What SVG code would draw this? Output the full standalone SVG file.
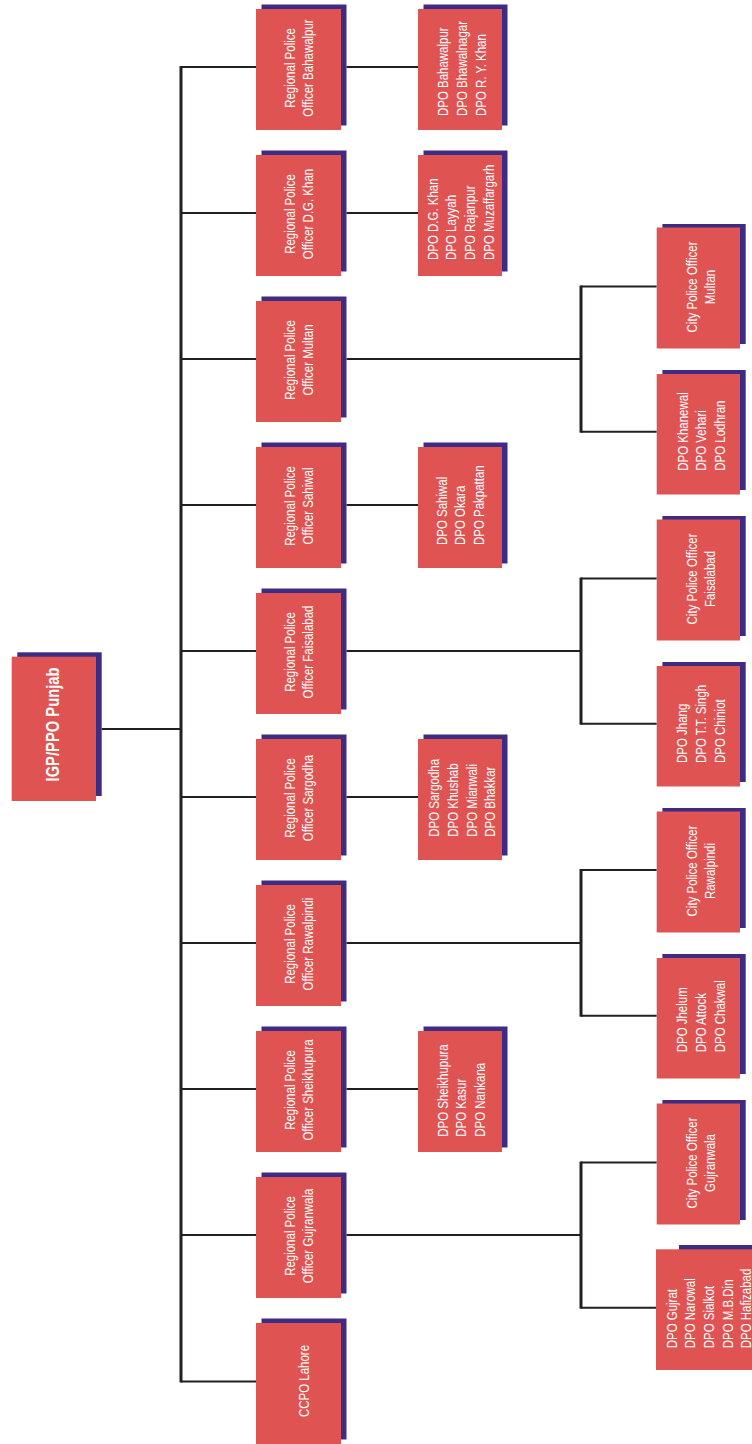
<svg xmlns="http://www.w3.org/2000/svg" width="752" height="1444" viewBox="0 0 752 1444">
<style>
.bg{fill:#ffffff}
.box{fill:#e05353}
.sh{fill:#3e2b84}
.t{font-family:"Liberation Sans",Arial,sans-serif;font-size:15px;fill:#ffffff}
.tb{font-family:"Liberation Sans",Arial,sans-serif;font-size:19px;font-weight:bold;fill:#ffffff}
.c{stroke:#231f20;stroke-width:2;fill:none}
.cv{stroke:#231f20;stroke-width:3;fill:none}
</style>
<rect class="bg" x="0" y="0" width="752" height="1444"/>
<g id="connectors">
  <line class="c" x1="101.7" y1="729" x2="181" y2="729"/>
  <line class="cv" x1="181" y1="66" x2="181" y2="1382.5"/>
  <path class="c" d="M181,67H256 M181,213H256 M181,359H256 M181,505H256 M181,651H256 M181,797H256 M181,943H256 M181,1089H256 M181,1235H256 M181,1381.5H256"/>
  <path class="c" d="M346.5,67H418 M346.5,213H418 M346.5,505H418 M346.5,797H418 M346.5,1089H418"/>
  <path class="c" d="M346.5,359H581 M346.5,651H581 M346.5,943H581 M346.5,1235H581"/>
  <path class="c" d="M581,286.5H656.7 M581,431.7H656.7 M581,578.5H656.7 M581,723.7H656.7 M581,870H656.7 M581,1015.7H656.7 M581,1162.5H656.7 M581,1307.7H656.7"/>
  <line class="cv" x1="581" y1="285.5" x2="581" y2="432.7"/>
  <line class="cv" x1="581" y1="577.5" x2="581" y2="724.7"/>
  <line class="cv" x1="581" y1="869" x2="581" y2="1016.7"/>
  <line class="cv" x1="581" y1="1161.5" x2="581" y2="1308.7"/>
</g>
<g id="igp">
  <rect class="sh" x="17.3" y="652.3" width="84.4" height="143.7"/>
  <rect class="box" x="11.7" y="656.7" width="84.3" height="144.3"/>
  <text class="tb" text-anchor="middle" transform="translate(59,724.5) rotate(-90) scale(0.777,1)">IGP/PPO Punjab</text>
</g>
<g id="rpo-bahawalpur">
  <rect class="sh" x="261.5" y="4.5" width="85" height="121"/>
  <rect class="box" x="256" y="9" width="85" height="121"/>
  <text class="t" text-anchor="middle" transform="translate(294.5,68) rotate(-90) scale(0.765,1)"><tspan x="0">Regional Police</tspan><tspan x="0" dy="19">Officer Bahawalpur</tspan></text>
</g>
<g id="rpo-dgkhan">
  <rect class="sh" x="261.5" y="150.5" width="85" height="121"/>
  <rect class="box" x="256" y="155" width="85" height="121"/>
  <text class="t" text-anchor="middle" transform="translate(294.5,214) rotate(-90) scale(0.765,1)"><tspan x="0">Regional Police</tspan><tspan x="0" dy="19">Officer D.G. Khan</tspan></text>
</g>
<g id="rpo-multan">
  <rect class="sh" x="261.5" y="296.5" width="85" height="121"/>
  <rect class="box" x="256" y="301" width="85" height="121"/>
  <text class="t" text-anchor="middle" transform="translate(294.5,360) rotate(-90) scale(0.765,1)"><tspan x="0">Regional Police</tspan><tspan x="0" dy="19">Officer Multan</tspan></text>
</g>
<g id="rpo-sahiwal">
  <rect class="sh" x="261.5" y="442.5" width="85" height="121"/>
  <rect class="box" x="256" y="447" width="85" height="121"/>
  <text class="t" text-anchor="middle" transform="translate(294.5,506) rotate(-90) scale(0.765,1)"><tspan x="0">Regional Police</tspan><tspan x="0" dy="19">Officer Sahiwal</tspan></text>
</g>
<g id="rpo-faisalabad">
  <rect class="sh" x="261.5" y="588.5" width="85" height="121"/>
  <rect class="box" x="256" y="593" width="85" height="121"/>
  <text class="t" text-anchor="middle" transform="translate(294.5,652) rotate(-90) scale(0.765,1)"><tspan x="0">Regional Police</tspan><tspan x="0" dy="19">Officer Faisalabad</tspan></text>
</g>
<g id="rpo-sargodha">
  <rect class="sh" x="261.5" y="734.5" width="85" height="121"/>
  <rect class="box" x="256" y="739" width="85" height="121"/>
  <text class="t" text-anchor="middle" transform="translate(294.5,798) rotate(-90) scale(0.765,1)"><tspan x="0">Regional Police</tspan><tspan x="0" dy="19">Officer Sargodha</tspan></text>
</g>
<g id="rpo-rawalpindi">
  <rect class="sh" x="261.5" y="880.5" width="85" height="121"/>
  <rect class="box" x="256" y="885" width="85" height="121"/>
  <text class="t" text-anchor="middle" transform="translate(294.5,944) rotate(-90) scale(0.765,1)"><tspan x="0">Regional Police</tspan><tspan x="0" dy="19">Officer Rawalpindi</tspan></text>
</g>
<g id="rpo-sheikhupura">
  <rect class="sh" x="261.5" y="1026.5" width="85" height="121"/>
  <rect class="box" x="256" y="1031" width="85" height="121"/>
  <text class="t" text-anchor="middle" transform="translate(294.5,1090) rotate(-90) scale(0.765,1)"><tspan x="0">Regional Police</tspan><tspan x="0" dy="19">Officer Sheikhupura</tspan></text>
</g>
<g id="rpo-gujranwala">
  <rect class="sh" x="261.5" y="1172.5" width="85" height="121"/>
  <rect class="box" x="256" y="1177" width="85" height="121"/>
  <text class="t" text-anchor="middle" transform="translate(294.5,1236) rotate(-90) scale(0.765,1)"><tspan x="0">Regional Police</tspan><tspan x="0" dy="19">Officer Gujranwala</tspan></text>
</g>
<g id="ccpo-lahore">
  <rect class="sh" x="261.5" y="1318.5" width="85" height="121"/>
  <rect class="box" x="256" y="1323" width="85" height="121"/>
  <text class="t" text-anchor="middle" transform="translate(308.5,1381) rotate(-90) scale(0.765,1)">CCPO Lahore</text>
</g>
<g id="dpo-bahawalpur">
  <rect class="sh" x="423.5" y="4.5" width="84" height="121"/>
  <rect class="box" x="418" y="9" width="84" height="121"/>
  <text class="t" transform="translate(448,116) rotate(-90) scale(0.765,1)"><tspan x="0">DPO Bahawalpur</tspan><tspan x="0" dy="18.8">DPO Bhawalnagar</tspan><tspan x="0" dy="18.8">DPO R. Y. Khan</tspan></text>
</g>
<g id="dpo-dgkhan">
  <rect class="sh" x="423.5" y="150.5" width="84" height="121"/>
  <rect class="box" x="418" y="155" width="84" height="121"/>
  <text class="t" transform="translate(437.5,260) rotate(-90) scale(0.765,1)"><tspan x="0">DPO D.G. Khan</tspan><tspan x="0" dy="18.8">DPO Layyah</tspan><tspan x="0" dy="18.8">DPO Rajanpur</tspan><tspan x="0" dy="18.8">DPO Muzaffargarh</tspan></text>
</g>
<g id="dpo-sahiwal">
  <rect class="sh" x="423.5" y="442.5" width="84" height="121"/>
  <rect class="box" x="418" y="447" width="84" height="121"/>
  <text class="t" transform="translate(446.5,545) rotate(-90) scale(0.765,1)"><tspan x="0">DPO Sahiwal</tspan><tspan x="0" dy="18.8">DPO Okara</tspan><tspan x="0" dy="18.8">DPO Pakpattan</tspan></text>
</g>
<g id="dpo-sargodha">
  <rect class="sh" x="423.5" y="734.5" width="84" height="121"/>
  <rect class="box" x="418" y="739" width="84" height="121"/>
  <text class="t" transform="translate(439,836.7) rotate(-90) scale(0.765,1)"><tspan x="0">DPO Sargodha</tspan><tspan x="0" dy="18.8">DPO Khushab</tspan><tspan x="0" dy="18.8">DPO Mianwali</tspan><tspan x="0" dy="18.8">DPO Bhakkar</tspan></text>
</g>
<g id="dpo-sheikhupura">
  <rect class="sh" x="423.5" y="1026.5" width="84" height="121"/>
  <rect class="box" x="418" y="1031" width="84" height="121"/>
  <text class="t" transform="translate(447.5,1136.7) rotate(-90) scale(0.765,1)"><tspan x="0">DPO Sheikhupura</tspan><tspan x="0" dy="18.8">DPO Kasur</tspan><tspan x="0" dy="18.8">DPO Nankana</tspan></text>
</g>
<g id="cpo-multan">
  <rect class="sh" x="662.4" y="224" width="83.3" height="120"/>
  <rect class="box" x="656.7" y="227.5" width="83.3" height="121"/>
  <text class="t" text-anchor="middle" transform="translate(696.5,287) rotate(-90) scale(0.765,1)"><tspan x="0">City Police Officer</tspan><tspan x="0" dy="19">Multan</tspan></text>
</g>
<g id="dpo-khanewal">
  <rect class="sh" x="662.4" y="370" width="83.3" height="120"/>
  <rect class="box" x="656.7" y="374" width="83.3" height="120.5"/>
  <text class="t" transform="translate(687.5,470.7) rotate(-90) scale(0.765,1)"><tspan x="0">DPO Khanewal</tspan><tspan x="0" dy="19">DPO Vehari</tspan><tspan x="0" dy="19">DPO Lodhran</tspan></text>
</g>
<g id="cpo-faisalabad">
  <rect class="sh" x="662.4" y="516" width="83.3" height="120"/>
  <rect class="box" x="656.7" y="519.5" width="83.3" height="121"/>
  <text class="t" text-anchor="middle" transform="translate(696.5,579) rotate(-90) scale(0.765,1)"><tspan x="0">City Police Officer</tspan><tspan x="0" dy="19">Faisalabad</tspan></text>
</g>
<g id="dpo-jhang">
  <rect class="sh" x="662.4" y="662" width="83.3" height="120"/>
  <rect class="box" x="656.7" y="666" width="83.3" height="120.5"/>
  <text class="t" transform="translate(687,763) rotate(-90) scale(0.765,1)"><tspan x="0">DPO Jhang</tspan><tspan x="0" dy="19">DPO T.T. Singh</tspan><tspan x="0" dy="19">DPO Chiniot</tspan></text>
</g>
<g id="cpo-rawalpindi">
  <rect class="sh" x="662.4" y="808" width="83.3" height="120"/>
  <rect class="box" x="656.7" y="811.5" width="83.3" height="121"/>
  <text class="t" text-anchor="middle" transform="translate(696.5,871) rotate(-90) scale(0.765,1)"><tspan x="0">City Police Officer</tspan><tspan x="0" dy="19">Rawalpindi</tspan></text>
</g>
<g id="dpo-jhelum">
  <rect class="sh" x="662.4" y="954" width="83.3" height="120"/>
  <rect class="box" x="656.7" y="958" width="83.3" height="120.5"/>
  <text class="t" transform="translate(687,1052.3) rotate(-90) scale(0.765,1)"><tspan x="0">DPO Jhelum</tspan><tspan x="0" dy="19">DPO Attock</tspan><tspan x="0" dy="19">DPO Chakwal</tspan></text>
</g>
<g id="cpo-gujranwala">
  <rect class="sh" x="662.4" y="1100" width="83.3" height="120"/>
  <rect class="box" x="656.7" y="1103.5" width="83.3" height="121"/>
  <text class="t" text-anchor="middle" transform="translate(696.5,1163) rotate(-90) scale(0.765,1)"><tspan x="0">City Police Officer</tspan><tspan x="0" dy="19">Gujranwala</tspan></text>
</g>
<g id="dpo-gujrat">
  <rect class="sh" x="679" y="1245" width="90" height="120"/>
  <rect class="box" x="656" y="1249.3" width="110" height="120.7"/>
  <text class="t" transform="translate(676.5,1348.3) rotate(-90) scale(0.765,1)"><tspan x="0">DPO Gujrat</tspan><tspan x="0" dy="18.7">DPO Narowal</tspan><tspan x="0" dy="18.7">DPO Sialkot</tspan><tspan x="0" dy="18.7">DPO M.B.Din</tspan><tspan x="0" dy="18.7">DPO Hafizabad</tspan></text>
</g>
</svg>
